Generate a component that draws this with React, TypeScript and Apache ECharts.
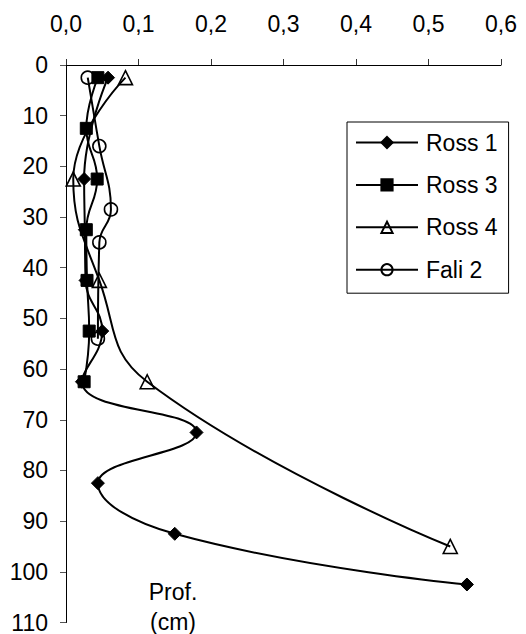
import React, { useEffect, useRef } from "react";
import * as echarts from "echarts";

const xTicks = [0, 0.1, 0.2, 0.3, 0.4, 0.5, 0.6];
const yTicks = [0, 10, 20, 30, 40, 50, 60, 70, 80, 90, 100, 110];

const ross1Depth = [2.5, 22.5, 32.5, 42.5, 52.5, 62.5, 72.5, 82.5, 92.5, 102.5];
const ross1Value = [0.058, 0.025, 0.026, 0.027, 0.05, 0.022, 0.18, 0.044, 0.15, 0.553];

const ross3Depth = [2.5, 12.5, 22.5, 32.5, 42.5, 52.5, 62.5];
const ross3Value = [0.044, 0.028, 0.043, 0.028, 0.029, 0.032, 0.025];

const ross4Depth = [2.5, 22.5, 42.5, 62.5, 95];
const ross4Value = [0.082, 0.01, 0.046, 0.112, 0.53];

const fali2Depth = [2.5, 16, 28.5, 35, 54];
const fali2Value = [0.03, 0.046, 0.062, 0.046, 0.044];

const FONT = "'Liberation Sans', Arial, sans-serif";

function pairs(vals: number[], depths: number[]) {
  return vals.map((v, i) => [v, depths[i]]);
}

export default function App() {
  const ref = useRef<HTMLDivElement>(null);
  useEffect(() => {
    if (!ref.current) return;
    const chart = echarts.init(ref.current, null, { renderer: "svg" });
    const lineStyle = { color: "#000", width: 2 };
    const filled = { color: "#000", borderColor: "#000", borderWidth: 1 };
    const hollow = { color: "transparent", borderColor: "#000", borderWidth: 1.6 };
    const base = {
      type: "line",
      smooth: 0.45,
      lineStyle,
      emphasis: { disabled: true },
      z: 3,
    };
    chart.setOption({
      animation: false,
      backgroundColor: "#fff",
      textStyle: { fontFamily: FONT },
      grid: { left: 66, top: 65, right: 25, bottom: 6.3, containLabel: false },
      xAxis: {
        type: "value",
        position: "top",
        min: xTicks[0],
        max: xTicks[xTicks.length - 1],
        interval: 0.1,
        axisLine: { show: true, lineStyle: { color: "#000", width: 1 } },
        axisTick: { show: true, inside: false, length: 6, lineStyle: { color: "#333" } },
        splitLine: { show: false },
        axisLabel: {
          margin: 30,
          fontSize: 23,
          color: "#000",
          fontFamily: FONT,
          formatter: (v: number) => v.toFixed(1).replace(".", ","),
        },
      },
      yAxis: {
        type: "value",
        inverse: true,
        min: yTicks[0],
        max: yTicks[yTicks.length - 1],
        interval: 10,
        axisLine: { show: true, lineStyle: { color: "#000", width: 1 } },
        axisTick: { show: true, inside: false, length: 6, lineStyle: { color: "#555" } },
        splitLine: { show: false },
        axisLabel: { margin: 18, fontSize: 23, color: "#000", fontFamily: FONT },
      },
      legend: {
        orient: "vertical",
        left: 347,
        top: 122,
        padding: [9, 11, 12, 8],
        itemWidth: 62,
        itemHeight: 14,
        itemGap: 19.4,
        borderColor: "#000",
        borderWidth: 1,
        backgroundColor: "#fff",
        textStyle: { fontSize: 23, color: "#000", fontFamily: FONT, lineHeight: 23, padding: [0, 0, 0, 3] },
        data: ["Ross 1", "Ross 3", "Ross 4", "Fali 2"],
      },
      graphic: [
        {
          type: "text",
          x: 173,
          y: 592,
          style: { text: "Prof.", fontSize: 23, fontFamily: FONT, fill: "#000", align: "center", verticalAlign: "middle" },
        },
        {
          type: "text",
          x: 173,
          y: 622,
          style: { text: "(cm)", fontSize: 23, fontFamily: FONT, fill: "#000", align: "center", verticalAlign: "middle" },
        },
      ],
      series: [
        { ...base, name: "Ross 1", symbol: "diamond", symbolSize: 13, itemStyle: filled, data: pairs(ross1Value, ross1Depth) },
        { ...base, name: "Ross 3", symbol: "rect", symbolSize: 12, itemStyle: filled, data: pairs(ross3Value, ross3Depth) },
        { ...base, name: "Ross 4", symbol: "triangle", symbolSize: 14, itemStyle: hollow, data: pairs(ross4Value, ross4Depth) },
        { ...base, name: "Fali 2", symbol: "circle", symbolSize: 13, itemStyle: hollow, data: pairs(fali2Value, fali2Depth) },
      ],
    });
    return () => chart.dispose();
  }, []);
  return <div ref={ref} style={{ position: "absolute", left: 0, top: 0, width: 526, height: 634 }} />;
}
